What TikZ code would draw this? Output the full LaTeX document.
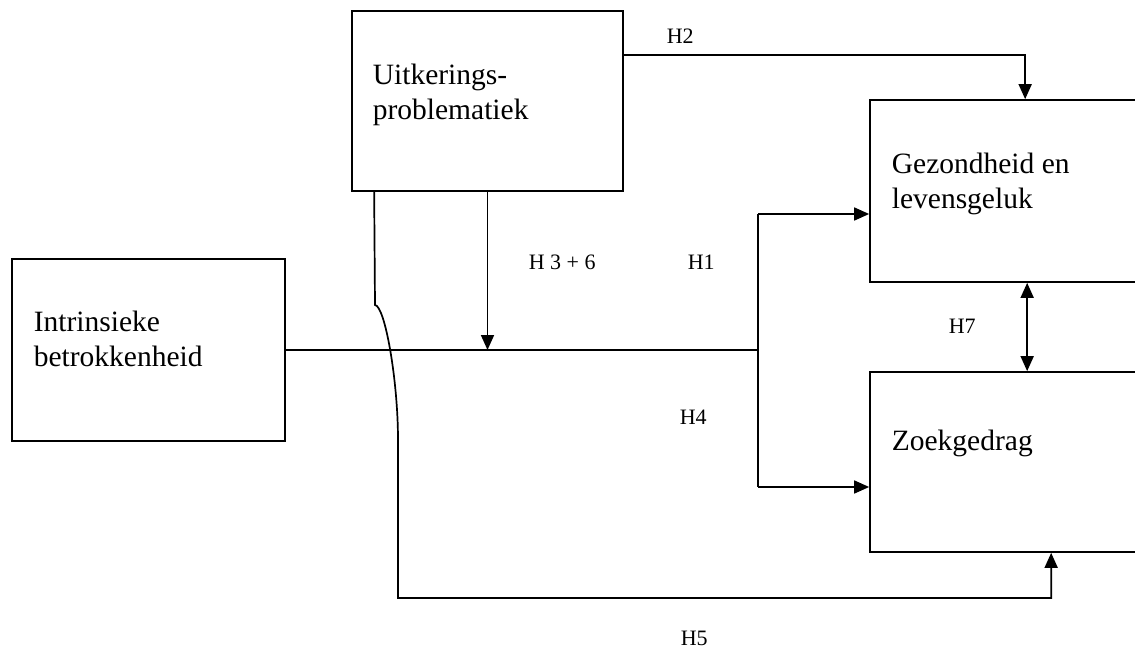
\documentclass[tikz,border=0pt]{standalone}
\usepackage{fontspec}
\setmainfont{Liberation Serif}
\usetikzlibrary{arrows.meta}
\begin{document}
\begin{tikzpicture}
      [x=1pt,y=-1pt,line width=1.7pt,
      box/.style={draw,inner sep=0pt},
      txt/.style={anchor=base west,align=left,inner sep=0pt,font=\fontsize{29.5}{35}\selectfont},
      hyp/.style={anchor=base west,inner sep=0pt,font=\fontsize{22}{26}\selectfont},
      arr/.style={-{Triangle[length=15pt,width=13pt]}}]
      \useasboundingbox (0,0) rectangle (1135,653);
      % boxes
      \node[box,minimum width=271pt,minimum height=180pt] (uitk) at (487.5,101) {};
      \node[box,minimum width=273pt,minimum height=182pt] (intr) at (148.5,350) {};
      \node[box,minimum width=280pt,minimum height=182pt] (gez) at (1010,191) {};
      \node[box,minimum width=280pt,minimum height=180pt] (zoek) at (1010,462) {};
      \node[txt] (uitktxt) at (372,119) {Uitkerings-\\problematiek};
      \node[txt] (intrtxt) at (33,366) {Intrinsieke\\betrokkenheid};
      \node[txt] (geztxt) at (891,208) {Gezondheid en\\levensgeluk};
      \node[txt] (zoektxt) at (891,450) {Zoekgedrag};
      % connectors
      \coordinate (fork) at (758,350);
      \coordinate (up) at (758,214);
      \coordinate (down) at (758,487);
      \draw (intr.east) -- (fork);
      \draw (up) -- (down);
      \draw[arr] (up) -- (gez.west |- up);
      \draw[arr] (down) -- (zoek.west |- down);
      \draw[arr] (uitk.south) -- (uitk.south |- fork);
      \draw[arr] ([yshift=-45pt]uitk.north east) -| ([xshift=156pt]gez.north west);
      \draw[{Triangle[length=15pt,width=13pt]}-{Triangle[length=15pt,width=13pt]}]
        ([xshift=158pt]gez.south west) -- ([xshift=158pt]zoek.north west);
      \draw[arr] ([xshift=23pt]uitk.south west) -- (375,305)
        .. controls (385,306) and (398,380) .. (398,440) -- (398,598)
        -| ([xshift=182pt]zoek.south west);
      % labels
      \node[hyp] (h1) at (687,269) {H1};
      \node[hyp] (h2) at (666,43) {H2};
      \node[hyp] (h36) at (528,269) {H 3 + 6};
      \node[hyp] (h4) at (679,424) {H4};
      \node[hyp] (h5) at (680,645) {H5};
      \node[hyp] (h7) at (948,333) {H7};
    \end{tikzpicture}
\end{document}
